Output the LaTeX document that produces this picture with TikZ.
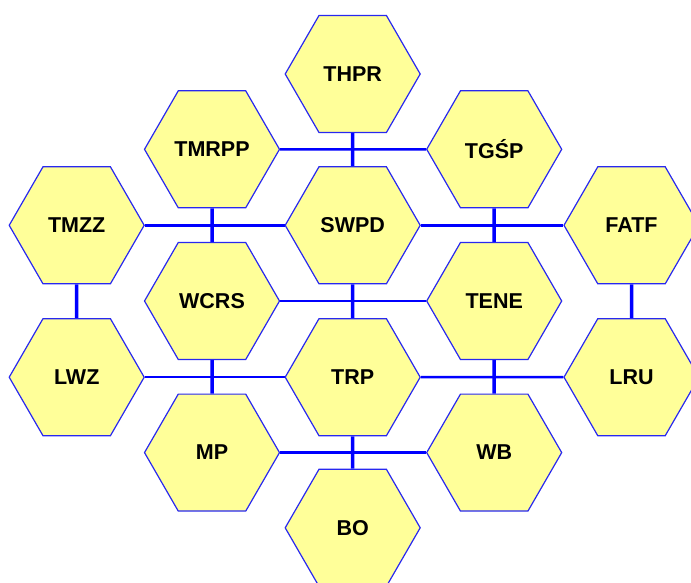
\documentclass[tikz,border=0pt]{standalone}
\usepackage{fontspec}
\setmainfont{Liberation Sans}
\usetikzlibrary{shapes.geometric,backgrounds}
\definecolor{hexfill}{HTML}{FFFF99}
\definecolor{hexline}{HTML}{2828F0}
\definecolor{linkblue}{HTML}{0000FF}
\begin{document}
\begin{tikzpicture}[x=1pt,y=-1pt,
  hexnode/.style={regular polygon, regular polygon sides=6, minimum size=135pt,
    inner sep=0pt, draw=hexline, line width=1.2pt, fill=hexfill,
    font=\bfseries\fontsize{21.5}{24}\selectfont},
  hlink/.style={draw=linkblue, line width=2.5pt},
  vlink/.style={draw=linkblue, line width=3.5pt}]
\useasboundingbox (0,0) rectangle (691,583);
\clip (0,0) rectangle (691,583);
% nodes
\node[hexnode] (thpr)  at (352.7,74)    {THPR};
\node[hexnode] (tmrpp) at (212,149.3)   {TMRPP};
\node[hexnode] (tgsp)  at (494.2,149.3) {TGŚP};
\node[hexnode] (tmzz)  at (76.7,225.3)  {TMZZ};
\node[hexnode] (swpd)  at (352.7,225.3) {SWPD};
\node[hexnode] (fatf)  at (631.5,225.3) {FATF};
\node[hexnode] (wcrs)  at (212,301)     {WCRS};
\node[hexnode] (tene)  at (494.2,301)   {TENE};
\node[hexnode] (lwz)   at (76.7,377.2)  {LWZ};
\node[hexnode] (trp)   at (352.7,377.2) {TRP};
\node[hexnode] (lru)   at (631.5,377.2) {LRU};
\node[hexnode] (mp)    at (212,452.6)   {MP};
\node[hexnode] (wb)    at (494.2,452.6) {WB};
\node[hexnode] (bo)    at (352.7,527.8) {BO};
\begin{pgfonlayer}{background}
% horizontal links
\draw[hlink] (tmrpp.east) -- (tgsp.west);
\draw[hlink] (tmzz.east) -- (swpd.west);
\draw[hlink] (swpd.east) -- (fatf.west);
\draw[hlink] (wcrs.east) -- (tene.west);
\draw[hlink] (lwz.east) -- (trp.west);
\draw[hlink] (trp.east) -- (lru.west);
\draw[hlink] (mp.east) -- (wb.west);
% vertical links
\draw[vlink] (thpr.south) -- (swpd.north);
\draw[vlink] (tmrpp.south) -- (wcrs.north);
\draw[vlink] (tgsp.south) -- (tene.north);
\draw[vlink] (swpd.south) -- (trp.north);
\draw[vlink] (tmzz.south) -- (lwz.north);
\draw[vlink] (fatf.south) -- (lru.north);
\draw[vlink] (wcrs.south) -- (mp.north);
\draw[vlink] (tene.south) -- (wb.north);
\draw[vlink] (trp.south) -- (bo.north);
\end{pgfonlayer}
\end{tikzpicture}
\end{document}
